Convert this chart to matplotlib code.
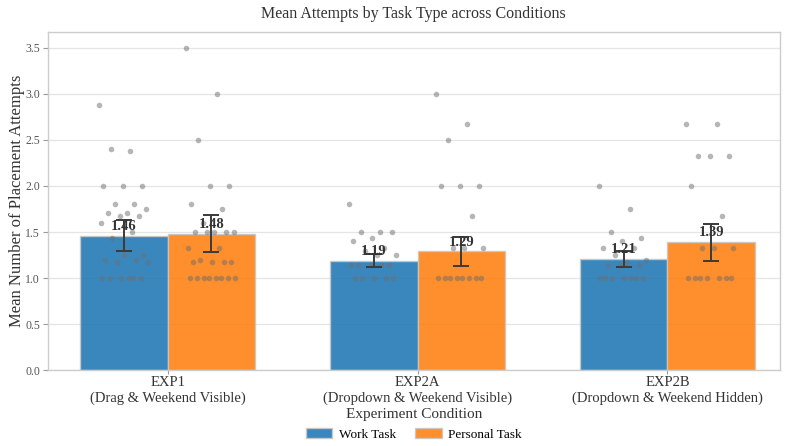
import numpy as np
import matplotlib
matplotlib.use('Agg')
import matplotlib.pyplot as plt

plt.rcParams['font.family'] = ['Liberation Serif', 'DejaVu Serif']

conditions = ['EXP1\n(Drag & Weekend Visible)',
              'EXP2A\n(Dropdown & Weekend Visible)',
              'EXP2B\n(Dropdown & Weekend Hidden)']
tasks = ['Work Task', 'Personal Task']

work_means = [1.46, 1.19, 1.21]
personal_means = [1.48, 1.29, 1.39]
work_err = [0.17, 0.07, 0.085]
personal_err = [0.20, 0.155, 0.20]

# per-participant mean attempts
work_points = [
    [2.875, 2.375, 2.4, 2.0, 2.0, 2.0, 1.8, 1.8, 1.75, 1.71, 1.71, 1.67, 1.67,
     1.6, 1.5, 1.43, 1.25, 1.25, 1.2, 1.2, 1.17, 1.17, 1.0, 1.0, 1.0, 1.0, 1.0, 1.0],
    [1.8, 1.5, 1.5, 1.5, 1.44, 1.4, 1.33, 1.29, 1.25, 1.25, 1.14, 1.14, 1.14,
     1.14, 1.14, 1.0, 1.0, 1.0, 1.0, 1.0],
    [2.0, 1.75, 1.5, 1.43, 1.4, 1.33, 1.33, 1.25, 1.2, 1.17, 1.14, 1.14, 1.14,
     1.0, 1.0, 1.0, 1.0, 1.0, 1.0, 1.0],
]
personal_points = [
    [3.5, 3.0, 2.5, 2.0, 2.0, 1.8, 1.75, 1.6, 1.5, 1.5, 1.5, 1.5, 1.5, 1.33,
     1.33, 1.2, 1.17, 1.17, 1.17, 1.17, 1.0, 1.0, 1.0, 1.0, 1.0, 1.0, 1.0, 1.0],
    [3.0, 2.67, 2.5, 2.0, 2.0, 2.0, 1.67, 1.33, 1.33, 1.33, 1.0, 1.0, 1.0,
     1.0, 1.0, 1.0, 1.0, 1.0],
    [2.67, 2.67, 2.33, 2.33, 2.33, 2.0, 1.67, 1.33, 1.33, 1.33, 1.0, 1.0,
     1.0, 1.0, 1.0, 1.0, 1.0],
]

blue = '#1f77b4'
orange = '#ff7f0e'
width = 0.35

fig, ax = plt.subplots(figsize=(7.95, 4.46), dpi=100)
fig.subplots_adjust(left=0.06, right=0.981, top=0.928, bottom=0.17)

x = np.arange(len(conditions))
ax.set_axisbelow(True)
ax.grid(axis='y', color='#e5e5e5', linewidth=0.9)

groups = [(x - width / 2, work_means, work_err, work_points, blue, tasks[0]),
          (x + width / 2, personal_means, personal_err, personal_points, orange, tasks[1])]

for pos, means, err, pts, col, lab in groups:
    ax.bar(pos, means, width, color=col, alpha=0.88, edgecolor='#c8c8c8',
           linewidth=1, label=lab, zorder=2)
    for xc, vals in zip(pos, pts):
        n = len(vals)
        jit = (((np.arange(n) * 0.618034) % 1.0) - 0.5) * 0.2
        ax.scatter(xc + jit, vals, s=16, color='#6e6e6e', alpha=0.5,
                   linewidths=0, zorder=3)
    ax.errorbar(pos, means, yerr=err, fmt='none', ecolor='#3a3a3a',
                elinewidth=1.4, capsize=6, capthick=1.4, zorder=4)
    for xc, m in zip(pos, means):
        ax.text(xc, m + 0.03, f'{m:.2f}', ha='center', va='bottom',
                fontsize=10.5, fontweight='bold', color='#333333', zorder=5)

ax.set_xticks(x)
ax.set_xticklabels(conditions, fontsize=10.5, color='#333333')
ax.set_xlim(-0.48, 2.45)
ax.set_ylim(0, 3.67)
ax.set_yticks(np.arange(0, 3.51, 0.5))
ax.set_yticklabels([f'{v:.1f}' for v in np.arange(0, 3.51, 0.5)])
ax.tick_params(axis='y', labelsize=8.5, colors='#555555', length=3.5,
               pad=2, color='#999999')
ax.tick_params(axis='x', length=3, pad=1.5, color='#999999')

for s in ax.spines.values():
    s.set_color('#cccccc')
    s.set_linewidth(1)

ax.set_xlabel('Experiment Condition', fontsize=11, color='#333333', labelpad=2)
ax.set_ylabel('Mean Number of Placement Attempts', fontsize=12,
              color='#333333')
ax.yaxis.set_label_coords(-0.031, 0.5)
ax.set_title('Mean Attempts by Task Type across Conditions', fontsize=11.5,
             color='#333333', pad=10)

ax.legend(loc='center', bbox_to_anchor=(0.5, -0.19), ncol=2,
          frameon=False, fontsize=9.5, handlelength=2.0, handletextpad=0.5,
          columnspacing=1.5)

plt.savefig('out.png', dpi=100)
